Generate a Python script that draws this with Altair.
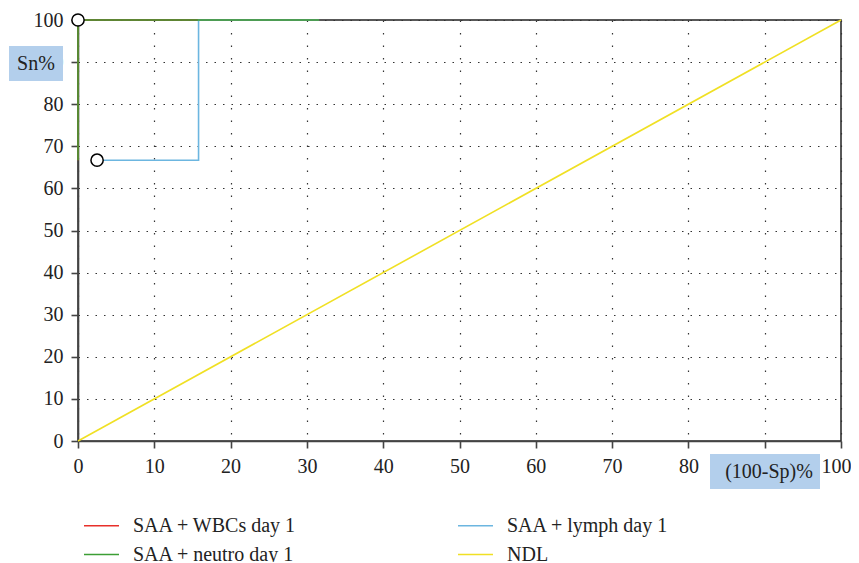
import altair as alt
import pandas as pd

# ---- data ----
wbcs_x = [0, 0, 31.6]
wbcs_y = [66.7, 100, 100]
neutro_x = [0, 0, 31.6]
neutro_y = [66.7, 100, 100]
lymph_x = [2.5, 15.8, 15.8, 31.6]
lymph_y = [66.7, 66.7, 100, 100]
ndl_x = [0, 100]
ndl_y = [0, 100]
cut_x = [0, 2.5]
cut_y = [100, 66.7]

series_names = ["SAA + WBCs day 1", "SAA + neutro day 1", "SAA + lymph day 1", "NDL"]
series_colors = ["#e8302a", "#3c9e35", "#6cb6e0", "#f0e024"]
ticks = list(range(0, 101, 10))

FONT = "Liberation Serif"

rows = []
for name, xs, ys in [
    ("SAA + WBCs day 1", wbcs_x, wbcs_y),
    ("SAA + neutro day 1", neutro_x, neutro_y),
    ("SAA + lymph day 1", lymph_x, lymph_y),
    ("NDL", ndl_x, ndl_y),
]:
    for i, (x, y) in enumerate(zip(xs, ys)):
        rows.append({"series": name, "x": x, "y": y, "i": i})
df = pd.DataFrame(rows)
cuts = pd.DataFrame({"x": cut_x, "y": cut_y})

xscale = alt.Scale(domain=[0, 100], nice=False)
yscale = alt.Scale(domain=[0, 100], nice=False)
color = alt.Color(
    "series:N",
    scale=alt.Scale(domain=series_names, range=series_colors),
    legend=alt.Legend(
        title=None,
        orient="none",
        legendX=5,
        legendY=487,
        columns=2,
        symbolType="stroke",
        symbolSize=1225,
        symbolStrokeWidth=1.5,
        labelFont=FONT,
        labelFontSize=20,
        labelColor="#222",
        labelOffset=13,
        columnPadding=158,
        rowPadding=-7,
        labelLimit=400,
    ),
)

xax = alt.X(
    "x:Q", scale=xscale,
    axis=alt.Axis(values=ticks, title=None, grid=True, gridDash=[1.5, 11],
                  labelPadding=8, tickSize=7, labelFlush=False,
                  labelOffset={"condition": {"test": "datum.value == 100", "value": -5}, "value": 0}),
)
yax = alt.Y(
    "y:Q", scale=yscale,
    axis=alt.Axis(values=ticks, title=None, grid=True, gridDash=[1.5, 7],
                  labelPadding=8, tickSize=7, labelFlush=False),
)

base = alt.Chart(df)


def series_layer(name):
    return base.transform_filter(alt.datum.series == name).mark_line(
        strokeWidth=1.6, interpolate="linear"
    ).encode(x=xax, y=yax, color=color, order=alt.Order("i:Q"))


layers = [series_layer(n) for n in ["SAA + WBCs day 1", "SAA + lymph day 1", "SAA + neutro day 1", "NDL"]]

points = alt.Chart(cuts).mark_point(
    shape="circle", filled=True, fill="white", stroke="black", strokeWidth=1.5, size=150, opacity=1
).encode(x=alt.X("x:Q", scale=xscale), y=alt.Y("y:Q", scale=yscale))

one = pd.DataFrame({"a": [0]})
sn_box = alt.Chart(one).mark_rect(color="#b3cfec").encode(
    x=alt.value(-69), x2=alt.value(-15), y=alt.value(26), y2=alt.value(61)
)
sn_text = alt.Chart(one).mark_text(
    text="Sn%", font=FONT, fontSize=20, color="#222", align="center", baseline="middle"
).encode(x=alt.value(-42), y=alt.value(44))
sp_box = alt.Chart(one).mark_rect(color="#b3cfec").encode(
    x=alt.value(632), x2=alt.value(742), y=alt.value(434), y2=alt.value(469)
)
sp_text = alt.Chart(one).mark_text(
    text="(100-Sp)%", font=FONT, fontSize=20, color="#222", align="center", baseline="middle"
).encode(x=alt.value(691), y=alt.value(452))

chart = alt.layer(sn_box, sn_text, sp_box, sp_text, *layers, points).properties(
    width=763,
    height=421,
    autosize=alt.AutoSizeParams(type="none"),
    padding={"left": 70, "top": 12, "right": 10, "bottom": 121},
    background="white",
).configure_view(
    stroke="#222", strokeWidth=1.5
).configure_axis(
    labelFont=FONT, labelFontSize=20, labelColor="#222",
    domainColor="#444", domainWidth=1.6, tickColor="#444", tickWidth=1.6,
    gridColor="#333", gridWidth=1.2, gridOpacity=1,
)

chart.save("out.html", embed_options={"renderer": "svg", "actions": False})
